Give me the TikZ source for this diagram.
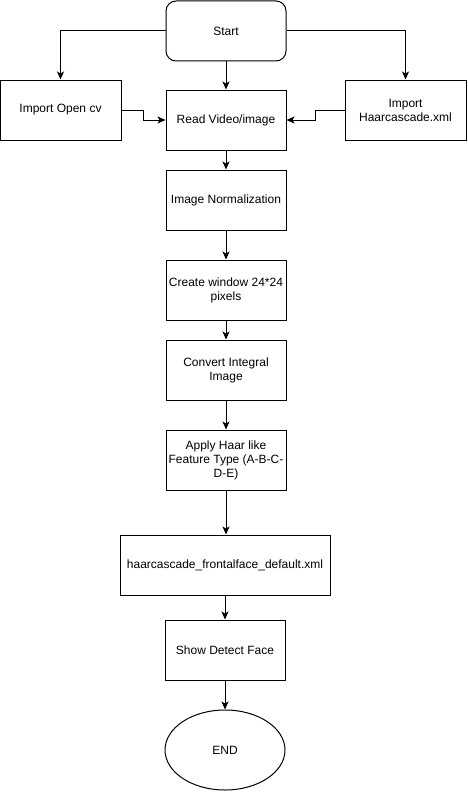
\documentclass[tikz,border=0pt]{standalone}
\usepackage{fontspec}
\setmainfont{Liberation Sans}
\usetikzlibrary{arrows.meta,shapes.geometric}
\begin{document}
\begin{tikzpicture}[x=1pt,y=-1pt,
  box/.style={draw,line width=1pt,minimum width=120pt,minimum height=60pt,inner sep=2pt,align=center,font=\fontsize{12}{14}\selectfont},
  conn/.style={line width=1pt,-{Stealth[length=8pt,width=7pt,inset=2pt]}}]
\useasboundingbox (0,0) rectangle (467,792);
\node[box,rounded corners=10pt] (start) at (226,31) {Start};
\node[box,minimum width=121pt] (opencv) at (60.5,110) {Import Open cv};
\node[box] (read) at (226,120) {Read Video/image};
\node[box,minimum width=121pt] (haar) at (405.5,110) {Import\\Haarcascade.xml};
\node[box] (norm) at (226,200) {Image Normalization};
\node[box] (win) at (226,290) {Create window 24*24\\pixels};
\node[box] (integ) at (226,370) {Convert Integral\\Image};
\node[box] (apply) at (226,460) {Apply Haar like\\Feature Type (A-B-C-\\D-E)};
\node[box,minimum width=210pt] (xml) at (225,565) {haarcascade\_frontalface\_default.xml};
\node[box] (show) at (225,650) {Show Detect Face};
\node[box,ellipse,minimum width=120pt,minimum height=80pt] (end) at (225,750) {END};
\draw[conn] (start.west) -| (opencv.north);
\draw[conn] (start.east) -| (haar.north);
\draw[conn] (start) -- (read);
\draw[conn] (opencv.east) -- ++(22,0) |- (read.west);
\draw[conn] (haar.west) -- ++(-29,0) |- (read.east);
\draw[conn] (read) -- (norm);
\draw[conn] (norm) -- (win);
\draw[conn] (win) -- (integ);
\draw[conn] (integ) -- (apply);
\draw[conn] (apply.south) -- (apply.south |- xml.north);
\draw[conn] (xml.south -| show.north) -- (show.north);
\draw[conn] (show) -- (end);
\end{tikzpicture}
\end{document}
